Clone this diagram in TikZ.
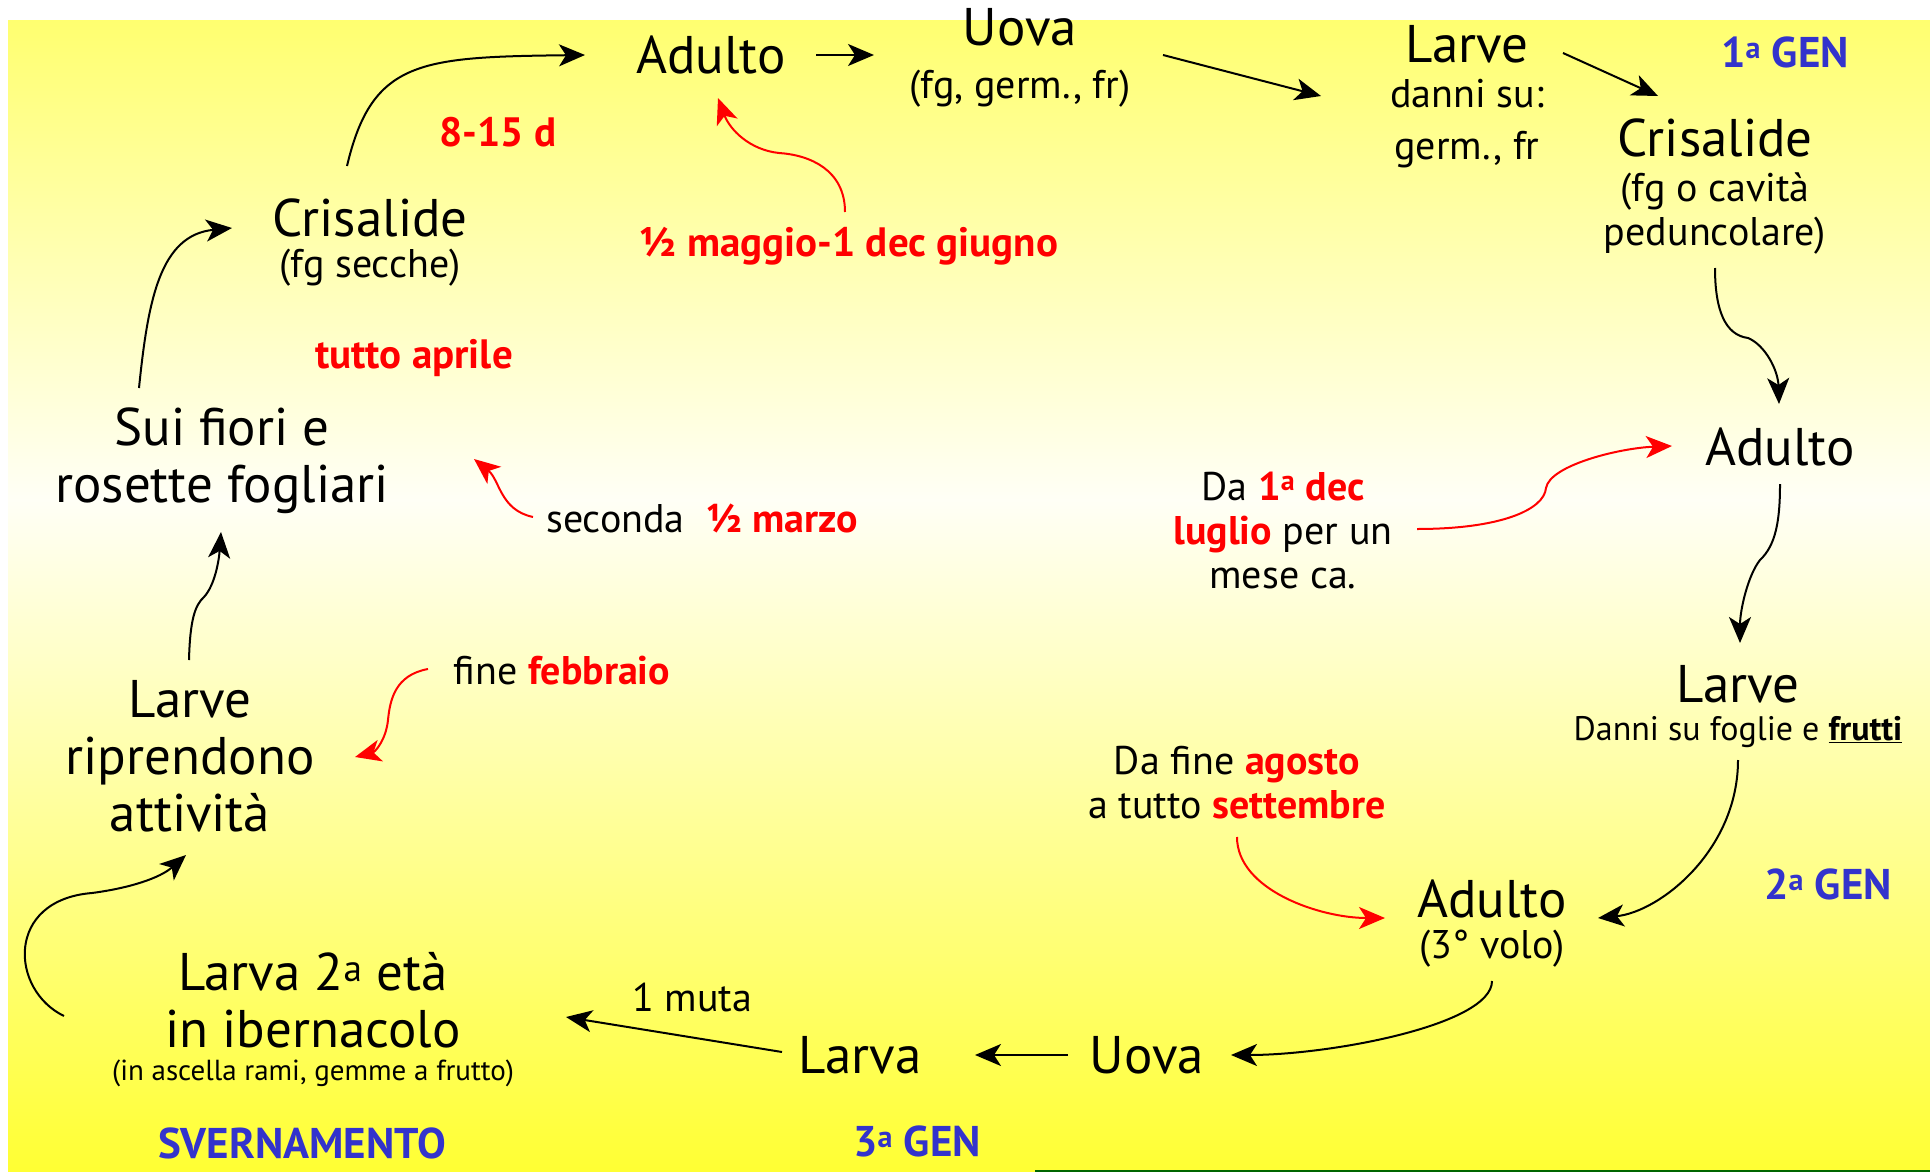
\documentclass[tikz,border=0pt]{standalone}
\usepackage{fontspec}
\setmainfont{PT Sans}
\usetikzlibrary{arrows.meta}

\definecolor{giallotop}{RGB}{255,255,112}
\definecolor{giallomid}{RGB}{255,255,246}
\definecolor{giallobot}{RGB}{255,255,51}
\definecolor{blugen}{RGB}{51,51,204}
\newcommand{\rosso}[1]{{\color{red}\bfseries #1}}

\begin{document}
\begin{tikzpicture}[x=1pt, y=-1pt,
	>={Stealth[length=26pt, width=22pt, inset=7pt]},
	fase/.style={font=\fontsize{53}{57}\selectfont, inner sep=0pt, align=center},
	nota/.style={font=\fontsize{40}{44}\selectfont, inner sep=0pt, align=center},
	piccola/.style={font=\fontsize{34}{38}\selectfont, inner sep=0pt},
	minuta/.style={font=\fontsize{29}{32}\selectfont, inner sep=0pt},
	data/.style={font=\fontsize{41}{44}\selectfont\bfseries, text=red, inner sep=0pt},
	gen/.style={font=\fontsize{43}{46}\selectfont\bfseries, text=blugen, inner sep=0pt},
	freccia/.style={->, line width=2pt},
	frecciarossa/.style={->, line width=2pt, red}]

	% sfondo
	\useasboundingbox (0,0) rectangle (1930,1172);
	\fill[white] (0,0) rectangle (1930,1172);
	\shade[top color=giallotop, bottom color=giallomid] (8,21) rectangle (1930,500);
	\shade[top color=giallomid, bottom color=giallobot] (8,500) rectangle (1930,1172);
	\draw[green!40!black, line width=2pt] (1035,1171) -- (1930,1171);

	% 1a generazione
	\node[fase] (adA) at (711,55) {Adulto};
	\node[fase] (uovA) at (1020,27) {Uova};
	\node[nota] (uovAs) at (1020,89) {(fg, germ., fr)};
	\node[fase] (larA) at (1467,44) {Larve};
	\node[nota] (larAs) at (1467,124) {danni su:\\[8pt]germ., fr};
	\node[gen] (genA) at (1785,52) {1\textsuperscript{a} GEN};
	\node[fase] (criA) at (1715,138) {Crisalide};
	\node[nota] (criAs) at (1715,213) {(fg o cavità\\peduncolare)};

	% 2a generazione
	\node[fase] (adB) at (1780,447) {Adulto};
	\node[nota] (luglio) at (1283,530) {Da \rosso{1\textsuperscript{a} dec}\\\rosso{luglio} per un\\mese ca.};
	\node[fase] (larB) at (1738,684) {Larve};
	\node[piccola] (larBs) at (1738,732) {Danni su foglie e \textbf{\underline{frutti}}};
	\node[gen] (genB) at (1828,884) {2\textsuperscript{a} GEN};

	% 3a generazione
	\node[fase] (adC) at (1492,899) {Adulto};
	\node[nota] (adCs) at (1492,949) {(3° volo)};
	\node[nota] (agosto) at (1237,783) {Da fine \rosso{agosto}\\a tutto \rosso{settembre}};
	\node[fase] (uovC) at (1147,1055) {Uova};
	\node[fase] (larC) at (860,1055) {Larva};
	\node[gen] (genC) at (917,1141) {3\textsuperscript{a} GEN};
	\node[nota] (muta) at (692,997) {1 muta};

	% svernamento
	\node[fase] (larD) at (313,1000) {Larva 2\textsuperscript{a} età\\in ibernacolo};
	\node[minuta] (larDs) at (313,1073) {(in ascella rami, gemme a frutto)};
	\node[gen] (sverna) at (302,1143) {SVERNAMENTO};
	\node[fase] (larE) at (190,756) {Larve\\riprendono\\attività};
	\node[nota] (febb) at (562,671) {fine \rosso{febbraio}};
	\node[fase] (fiori) at (222,461) {Sui fiori e\\rosette fogliari};
	\node[nota] (marzo) at (702,518) {seconda\ \ \rosso{½ marzo}};
	\node[data] (aprile) at (414,358) {tutto aprile};
	\node[fase] (criB) at (370,218) {Crisalide};
	\node[nota] (criBs) at (370,268) {(fg secche)};
	\node[data] (giorni) at (498,132) {8-15 d};
	\node[data] (maggio) at (849,246) {½ maggio-1 dec giugno};

	% frecce nere
	\draw[freccia] ([shift={(105,0)}]adA.center) -- ([shift={(-146,-34)}]uovAs.center);
	\draw[freccia] ([shift={(143,28)}]uovA.center) -- ([shift={(-146,52)}]larA.center);
	\draw[freccia] ([shift={(96,9)}]larA.center) -- ([shift={(-57,-42)}]criA.center);
	\draw[freccia] ([shift={(0,55)}]criAs.center) .. controls (1715,310) and (1725,335) .. (1748,338)
		.. controls (1765,345) and (1778,370) .. ([shift={(-1,-43)}]adB.center);
	\draw[freccia] ([shift={(0,37)}]adB.center) .. controls (1780,520) and (1776,545) .. (1760,560)
		.. controls (1748,575) and (1740,610) .. ([shift={(2,-41)}]larB.center);
	\draw[freccia] ([shift={(0,28)}]larBs.center) .. controls (1738,850) and (1660,912) .. ([shift={(106,19)}]adC.center);
	\draw[freccia] ([shift={(0,32)}]adCs.center) .. controls (1492,1025) and (1330,1055) .. ([shift={(84,0)}]uovC.center);
	\draw[freccia] ([shift={(-79,0)}]uovC.center) -- ([shift={(115,0)}]larC.center);
	\draw[freccia] ([shift={(-78,-3)}]larC.center) -- ([shift={(253,17)}]larD.center);
	\draw[freccia] ([shift={(-249,16)}]larD.center) .. controls (10,990) and (5,900) .. (92,893)
		.. controls (130,888) and (160,878) .. ([shift={(-4,99)}]larE.center);
	\draw[freccia] ([shift={(-1,-96)}]larE.center) .. controls (190,620) and (195,605) .. (204,597)
		.. controls (215,585) and (219,560) .. ([shift={(-1,71)}]fiori.center);
	\draw[freccia] ([shift={(-83,-73)}]fiori.center) .. controls (148,300) and (160,235) .. ([shift={(-138,10)}]criB.center);
	\draw[freccia] ([shift={(-23,-52)}]criB.center) .. controls (372,60) and (420,57) .. ([shift={(-126,0)}]adA.center);

	% frecce rosse
	\draw[frecciarossa] ([shift={(0,54)}]agosto.center) .. controls (1237,890) and (1320,918) .. ([shift={(-107,19)}]adC.center);
	\draw[frecciarossa] ([shift={(134,-1)}]luglio.center) .. controls (1500,529) and (1544,510) .. (1546,488)
		.. controls (1550,465) and (1620,448) .. ([shift={(-108,-1)}]adB.center);
	\draw[frecciarossa] ([shift={(-4,-34)}]maggio.center) .. controls (845,170) and (810,155) .. (779,153)
		.. controls (750,150) and (730,130) .. ([shift={(7,43)}]adA.center);
	\draw[frecciarossa] ([shift={(-169,-1)}]marzo.center) .. controls (500,510) and (500,480) .. ([shift={(252,-2)}]fiori.center);
	\draw[frecciarossa] ([shift={(-134,-2)}]febb.center) .. controls (395,675) and (390,700) .. (388,720)
		.. controls (386,740) and (375,752) .. ([shift={(165,1)}]larE.center);
\end{tikzpicture}
\end{document}
